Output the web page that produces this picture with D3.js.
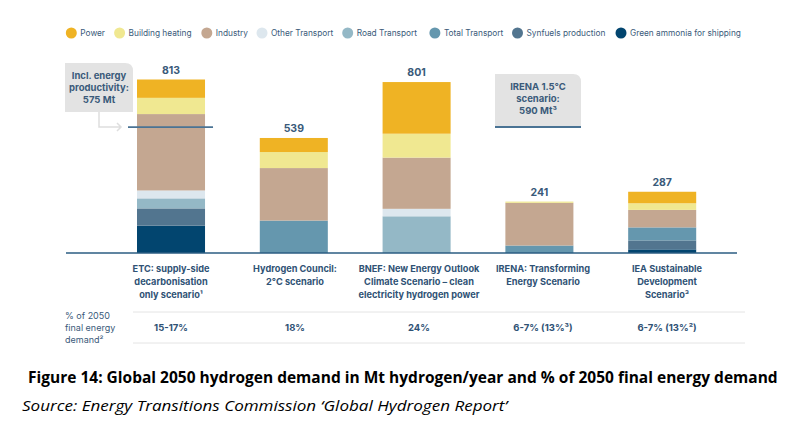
<!DOCTYPE html>
<html><head><meta charset="utf-8">
<script src="https://cdn.jsdelivr.net/npm/d3@7"></script>
<style>html,body{margin:0;padding:0;background:#fff;}svg{display:block;}</style>
</head><body>
<svg id="chart" width="793" height="426"></svg>
<script>
const categories = ["ETC", "HC", "BNEF", "IRENA", "IEA"];
const categoryLabels = [
  ["ETC: supply-side", "decarbonisation", "only scenario¹"],
  ["Hydrogen Council:", "2°C scenario"],
  ["BNEF: New Energy Outlook", "Climate Scenario – clean", "electricity hydrogen power"],
  ["IRENA: Transforming", "Energy Scenario"],
  ["IEA Sustainable", "Development", "Scenario³"]
];
const seriesNames = ["Power", "Building heating", "Industry", "Other Transport", "Road Transport", "Total Transport", "Synfuels production", "Green ammonia for shipping"];
const power           = [86, 66, 242, 0, 54];
const buildingHeating = [76, 75, 112, 6, 31];
const industry        = [358, 246, 240, 200, 82];
const otherTransport  = [37, 0, 35, 0, 0];
const roadTransport   = [47, 0, 172, 0, 0];
const totalTransport  = [0, 152, 0, 35, 61];
const synfuels        = [81, 0, 0, 0, 42];
const ammonia         = [128, 0, 0, 0, 17];
const totals = [813, 539, 801, 241, 287];
const shareOfDemand = ["15-17%", "18%", "24%", "6-7% (13%³)", "6-7% (13%²)"];
const refLines = [
  {cat: "ETC", value: 590, text: ["Incl. energy", "productivity:", "575 Mt"]},
  {cat: "IRENA", value: 590, text: ["IRENA 1.5°C", "scenario:", "590 Mt³"]}
];
const colors = ["#EFB324", "#F0E891", "#C4A791", "#DDE7EE", "#94B8C6", "#6597AE", "#52758F", "#02456F"];

const seriesValues = [power, buildingHeating, industry, otherTransport, roadTransport, totalTransport, synfuels, ammonia];
const rows = categories.map((c, i) => {
  const r = {cat: c};
  seriesNames.forEach((s, j) => r[s] = seriesValues[j][i]);
  return r;
});
const stackOrder = seriesNames.slice().reverse();
const stacked = d3.stack().keys(stackOrder)(rows);
const color = d3.scaleOrdinal().domain(seriesNames).range(colors);

const svg = d3.select("#chart");
const font = "Inter, 'Noto Sans', sans-serif";
const textCol = "#3a5a7a";

const x = d3.scaleBand().domain(categories).range([137, 696.2]).paddingInner(0.446).paddingOuter(0);
const xl = d3.scalePoint().domain(categories).range([171, 667]);
const y = d3.scaleLinear().domain([0, 813]).range([253, 79.5]);

// Legend
const legendX = [71.3, 119.6, 206.8, 262, 347.7, 434.9, 517.5, 621];
const lg = svg.append("g").attr("font-family", font).attr("font-size", 8.3).attr("fill", textCol);
seriesNames.forEach((s, i) => {
  lg.append("circle").attr("cx", legendX[i]).attr("cy", 33).attr("r", 5.5).attr("fill", color(s));
  lg.append("text").attr("x", legendX[i] + 9).attr("y", 36).text(s);
});

// Bars
svg.append("g").selectAll("g").data(stacked).join("g")
  .attr("fill", d => color(d.key))
  .selectAll("rect").data(d => d).join("rect")
  .attr("x", d => x(d.data.cat))
  .attr("width", x.bandwidth())
  .attr("y", d => y(d[1]))
  .attr("height", d => Math.max(0, y(d[0]) - y(d[1])));

// Totals
svg.append("g").selectAll("text").data(categories).join("text")
  .attr("x", d => x(d) + x.bandwidth() / 2)
  .attr("y", (d, i) => y(totals[i]) - 6)
  .attr("text-anchor", "middle")
  .attr("font-family", font).attr("font-weight", 700).attr("font-size", 10.5)
  .attr("fill", textCol)
  .text((d, i) => totals[i]);

// Baseline
svg.append("line").attr("x1", 66).attr("x2", 737).attr("y1", y(0)).attr("y2", y(0))
  .attr("stroke", "#2b5c82").attr("stroke-width", 1.6);

// Annotation: ETC
const etc = refLines[0];
const ly = y(etc.value);
svg.append("path").attr("d", "M65,63 H125 Q133,63 133,71 V112 H65 Z").attr("fill", "#e3e3e3");
etc.text.forEach((t, i) => svg.append("text").attr("x", 99).attr("y", 79 + i * 12)
  .attr("text-anchor", "middle").attr("font-family", font).attr("font-weight", 700)
  .attr("font-size", 9.5).attr("fill", textCol).text(t));
svg.append("path").attr("d", `M99,112 V${ly} H121 M117,${ly - 4} L121,${ly} L117,${ly + 4}`)
  .attr("fill", "none").attr("stroke", "#dedede").attr("stroke-width", 1.5);
svg.append("line").attr("x1", x(etc.cat) - 9).attr("x2", x(etc.cat) + x.bandwidth() + 8)
  .attr("y1", ly).attr("y2", ly).attr("stroke", "#4a7394").attr("stroke-width", 1.6);

// Annotation: IRENA
const ir = refLines[1];
const iy = y(ir.value);
svg.append("path").attr("d", `M495,74 H573 Q581,74 581,82 V${iy - 1} H495 Z`).attr("fill", "#e3e3e3");
ir.text.forEach((t, i) => svg.append("text").attr("x", 538).attr("y", 90 + i * 12)
  .attr("text-anchor", "middle").attr("font-family", font).attr("font-weight", 700)
  .attr("font-size", 9.5).attr("fill", textCol).text(t));
svg.append("line").attr("x1", 495).attr("x2", 581).attr("y1", iy).attr("y2", iy)
  .attr("stroke", "#4a7394").attr("stroke-width", 2);

// Category labels
const cl = svg.append("g").attr("font-family", font).attr("font-weight", 700).attr("font-size", 9.2).attr("fill", "#2f5275");
categories.forEach((c, i) => {
  categoryLabels[i].forEach((t, j) => {
    cl.append("text").attr("x", xl(c)).attr("y", 271.5 + j * 13).attr("text-anchor", "middle").text(t);
  });
});

// Separator lines
[312, 343].forEach(v => svg.append("line").attr("x1", 133).attr("x2", 745).attr("y1", v).attr("y2", v)
  .attr("stroke", "#e4e4e4").attr("stroke-width", 1));

// % of final energy demand
const pl = svg.append("g").attr("font-family", font).attr("font-size", 9).attr("fill", textCol);
["% of 2050", "final energy", "demand²"].forEach((t, i) => pl.append("text").attr("x", 65).attr("y", 318.5 + i * 12).text(t));
svg.append("g").selectAll("text").data(categories).join("text")
  .attr("x", d => xl(d)).attr("y", 330.5).attr("text-anchor", "middle")
  .attr("font-family", font).attr("font-weight", 700).attr("font-size", 9.5).attr("fill", "#2f5275")
  .text((d, i) => shareOfDemand[i]);

// Caption (horizontally condensed to mimic a narrow font)
function condensed(txt, x0, y0, targetW, attrs) {
  const t = svg.append("text").attr("x", 0).attr("y", 0).text(txt);
  Object.entries(attrs).forEach(([k, v]) => t.attr(k, v));
  const w = t.node().getComputedTextLength();
  t.attr("transform", `translate(${x0},${y0}) scale(${targetW / w},1)`);
}
condensed("Figure 14: Global 2050 hydrogen demand in Mt hydrogen/year and % of 2050 final energy demand", 28, 383, 750,
  {"font-family": "'Open Sans', 'Liberation Sans', sans-serif", "font-weight": 700, "font-size": 16, "fill": "#000"});
condensed("Source: Energy Transitions Commission ‘Global Hydrogen Report’", 22, 411, 486,
  {"font-family": "'Open Sans', 'Liberation Sans', sans-serif", "font-style": "italic", "font-size": 15, "fill": "#000"});
</script>
</body></html>
